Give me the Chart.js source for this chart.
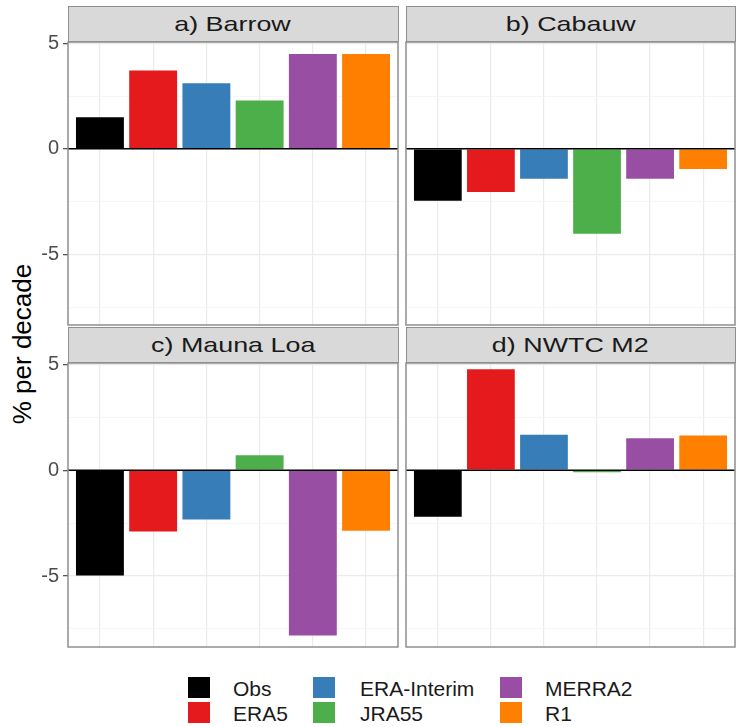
<!DOCTYPE html>
<html>
<head>
<meta charset="utf-8">
<script src="https://cdn.jsdelivr.net/npm/chart.js@4"></script>
<style>
  body { margin: 0; background: #fff; }
  #wrap { position: relative; width: 739px; height: 727px; font-family: "Liberation Sans", Arial, sans-serif; }
  canvas { position: absolute; }
  .strip {
    position: absolute; box-sizing: border-box; height: 36px;
    background: #d9d9d9; border: 1.5px solid #8f8f8f;
    text-align: center; line-height: 33px; font-size: 21px; color: #1a1a1a;
  }
  .strip span { display: inline-block; transform: scaleX(1.28); }
  #ytitle {
    position: absolute; width: 400px; height: 30px; line-height: 30px;
    left: -178px; top: 329px; text-align: center; font-size: 26px; color: #000;
    transform: rotate(-90deg);
  }
  .key { position: absolute; width: 22px; height: 21px; }
  .lab { position: absolute; font-size: 21px; line-height: 21px; color: #1a1a1a; }
</style>
</head>
<body>
<div id="wrap">
  <div id="ytitle">% per decade</div>
</div>
<script>
// reanalyses vs observed trends, % per decade
const SERIES = ['Obs', 'ERA5', 'ERA-Interim', 'JRA55', 'MERRA2', 'R1'];
const SITES = ['a) Barrow', 'b) Cabauw', 'c) Mauna Loa', 'd) NWTC M2'];
const BARROW = [1.5, 3.71, 3.11, 2.29, 4.49, 4.49];
const CABAUW = [-2.46, -2.05, -1.42, -4.03, -1.42, -0.96];
const MAUNA_LOA = [-4.97, -2.9, -2.33, 0.71, -7.81, -2.86];
const NWTC_M2 = [-2.2, 4.76, 1.67, -0.1, 1.51, 1.64];
const Y_TICKS = [-5, 0, 5];
const Y_MINOR = [-7.5, -2.5, 2.5];

const COLORS = ['#000000', '#e41a1c', '#377eb8', '#4daf4a', '#984ea3', '#ff7f00'];
const Y_MIN = -8.35, Y_MAX = 5.06;
const PAD = 3;
const AXIS_PAD_TOP = 14;   // room for the top tick label

// facet grid, 2 x 2
const panels = [
  { title: SITES[0], values: BARROW,    left: 68,  right: 398, top: 42,  bottom: 325, axis: true },
  { title: SITES[1], values: CABAUW,    left: 406, right: 735, top: 42,  bottom: 325, axis: false },
  { title: SITES[2], values: MAUNA_LOA, left: 68,  right: 398, top: 363, bottom: 647, axis: true },
  { title: SITES[3], values: NWTC_M2,   left: 406, right: 735, top: 363, bottom: 647, axis: false }
];

// zero line on top of the bars, then the panel frame
const panelLines = {
  id: 'panelLines',
  afterDatasetsDraw(chart) {
    const { ctx, chartArea: a, scales } = chart;
    const y0 = scales.y.getPixelForValue(0);
    ctx.save();
    ctx.strokeStyle = '#000';
    ctx.lineWidth = 1.5;
    ctx.beginPath();
    ctx.moveTo(a.left, y0);
    ctx.lineTo(a.right, y0);
    ctx.stroke();
    ctx.strokeStyle = '#8f8f8f';
    ctx.lineWidth = 1.5;
    ctx.strokeRect(a.left, a.top, a.right - a.left, a.bottom - a.top);
    ctx.restore();
  }
};

const wrap = document.getElementById('wrap');
const yGrid = [...Y_MINOR, ...Y_TICKS].sort((p, q) => p - q);

panels.forEach(p => {
  const cv = document.createElement('canvas');
  const cl = p.axis ? 0 : p.left - PAD;
  const padTop = p.axis ? AXIS_PAD_TOP : PAD;
  cv.width = p.right + PAD - cl;
  cv.height = p.bottom - p.top + padTop + PAD;
  cv.style.left = cl + 'px';
  cv.style.top = (p.top - padTop) + 'px';
  wrap.appendChild(cv);

  const strip = document.createElement('div');
  strip.className = 'strip';
  strip.style.left = (p.left - 0.5) + 'px';
  strip.style.width = (p.right - p.left + 1) + 'px';
  strip.style.top = (p.top - 36) + 'px';
  strip.innerHTML = '<span></span>';
  strip.firstChild.textContent = p.title;
  wrap.appendChild(strip);

  new Chart(cv, {
    type: 'bar',
    data: {
      datasets: [{
        data: p.values.map((v, i) => ({ x: i + 1, y: v })),
        backgroundColor: COLORS,
        borderWidth: 0
      }]
    },
    options: {
      responsive: false,
      animation: false,
      categoryPercentage: 1,
      barPercentage: 0.9,
      layout: { padding: { left: p.axis ? 0 : PAD, right: PAD, top: padTop, bottom: PAD } },
      plugins: { legend: { display: false }, tooltip: { enabled: false } },
      scales: {
        x: {
          type: 'linear',
          min: 0.4,
          max: 6.6,
          bounds: 'data',
          offset: false,
          afterBuildTicks: s => { s.ticks = SERIES.map((_, i) => ({ value: i + 1 })); },
          afterFit: s => { s.height = 0; s.paddingLeft = 0; s.paddingRight = 0; },
          ticks: { display: false },
          border: { display: false },
          grid: { offset: false, color: '#ebebeb', lineWidth: 1.2, drawTicks: false }
        },
        y: {
          min: Y_MIN,
          max: Y_MAX,
          afterBuildTicks: s => { s.ticks = yGrid.map(v => ({ value: v })); },
          afterFit: s => { s.width = p.axis ? 68 : 0; s.paddingTop = 0; s.paddingBottom = 0; },
          border: { display: false },
          ticks: {
            display: p.axis,
            autoSkip: false,
            padding: 4,
            color: '#4d4d4d',
            font: { family: '"Liberation Sans", Arial, sans-serif', size: 20 },
            callback: v => Y_TICKS.includes(v) ? String(v) : ''
          },
          grid: {
            drawTicks: p.axis,
            tickLength: 5,
            color: c => Y_TICKS.includes(c.tick.value) ? '#ebebeb' : '#f4f4f4',
            lineWidth: c => Y_TICKS.includes(c.tick.value) ? 1.3 : 0.8,
            tickColor: c => Y_TICKS.includes(c.tick.value) ? '#555' : 'rgba(0,0,0,0)',
            tickWidth: 1.3
          }
        }
      }
    },
    plugins: [panelLines]
  });
});

// legend: three columns, filled down each column
const keyCols = [188, 313, 500];
const labCols = [233, 360, 545];
const keyRows = [677, 702];
SERIES.forEach((name, i) => {
  const col = Math.floor(i / 2), row = i % 2;
  const k = document.createElement('div');
  k.className = 'key';
  k.style.left = keyCols[col] + 'px';
  k.style.top = keyRows[row] + 'px';
  k.style.background = COLORS[i];
  wrap.appendChild(k);
  const t = document.createElement('div');
  t.className = 'lab';
  t.style.left = labCols[col] + 'px';
  t.style.top = (keyRows[row] + 1) + 'px';
  t.textContent = name;
  wrap.appendChild(t);
});
</script>
</body>
</html>
